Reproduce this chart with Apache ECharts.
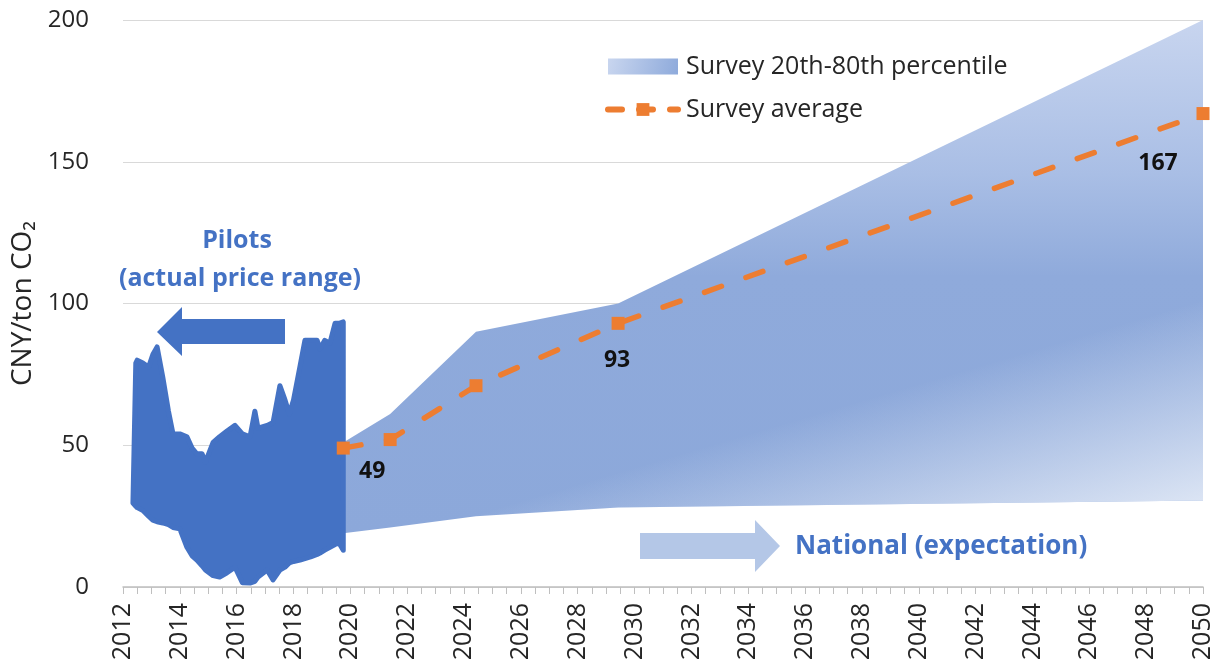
<!DOCTYPE html>
<html>
<head>
<meta charset="utf-8">
<script src="https://cdn.jsdelivr.net/npm/echarts@6/dist/echarts.min.js"></script>
<style>
html,body{margin:0;padding:0;background:#fff;}
#chart{width:1227px;height:664px;}
</style>
</head>
<body>
<div id="chart"></div>
<script>
// ---- data ----
const pilotYears = [2012.35, 2012.45, 2012.5, 2012.7, 2012.9, 2013.05, 2013.2, 2013.4, 2013.6, 2013.76, 2014.0, 2014.25, 2014.43, 2014.6, 2014.78, 2014.9, 2015.17, 2015.4, 2015.66, 2015.94, 2016.2, 2016.47, 2016.64, 2016.75, 2017.07, 2017.28, 2017.52, 2017.7, 2017.85, 2018.0, 2018.23, 2018.4, 2018.6, 2018.83, 2018.93, 2019.1, 2019.28, 2019.46, 2019.6, 2019.75];
const pilotHigh  = [29.6, 79, 80, 79, 77.6, 82, 84.7, 74, 62, 54, 54, 53, 49, 47, 47, 44, 51, 53, 55, 57, 54, 53, 62, 56, 57, 58, 71, 66, 61, 66, 78, 87, 87, 87, 84, 87, 86, 93, 93, 93.5];
const pilotLow   = [29.6, 28.5, 28, 27, 25, 23.6, 23, 22.6, 22, 21, 20.5, 14, 11, 9.5, 7.5, 6, 4, 3.5, 5, 7, 1.5, 1.4, 2, 3.5, 6, 2.5, 6, 7, 8.5, 9, 9.5, 10, 10.6, 11.5, 12, 13, 14, 15, 15.5, 13];

const surveyYears = [2019.75, 2021.4, 2024.42, 2029.42, 2050];
const surveyHigh  = [51, 61, 90, 100, 200];
const surveyLow   = [19, 21, 25, 28, 30.5];
const surveyAvg   = [49, 52, 71, 93, 167];
const avgLabelShown = [true, false, false, true, true];

const yMin = 0, yMax = 200, yInterval = 50;
const xMin = 2012, xMax = 2050, xInterval = 2;

const bandName = 'Survey 20th-80th percentile';
const avgName = 'Survey average';
const yAxisName = 'CNY/ton CO\u2082';
const pilotText = ['Pilots', '(actual price range)'];
const nationalText = 'National (expectation)';

// ---- build ----
const FONT = '"Open Sans", Lato, sans-serif';
const BLUE = '#4472C4';
const ORANGE = '#ED7D31';

const rows = (xs, lo, hi) => xs.map((x, i) => [x, lo[i], hi[i]]);

const bandBase = new echarts.graphic.LinearGradient(0, 0, 0, 1, [
  {offset: 0, color: '#c8d5ef'},
  {offset: 0.3, color: '#a9bee5'},
  {offset: 0.5, color: '#8faadb'},
  {offset: 1, color: '#8ca8da'}
]);
const bandFade = new echarts.graphic.LinearGradient(0.93, 0.58, 1.0, 0.978, [
  {offset: 0, color: 'rgba(232,238,248,0)'},
  {offset: 1, color: 'rgba(232,238,248,0.95)'}
]);
const legendGradient = new echarts.graphic.LinearGradient(0, 0, 1, 1, [
  {offset: 0, color: '#c9d6ef'},
  {offset: 1, color: '#8eaadb'}
]);

function bandPoints(xs, lo, hi, api) {
  const pts = [];
  for (let i = 0; i < xs.length; i++) pts.push(api.coord([xs[i], hi[i]]));
  for (let i = xs.length - 1; i >= 0; i--) pts.push(api.coord([xs[i], lo[i]]));
  return pts;
}
function bandRenderer(xs, lo, hi, styles) {
  return function (params, api) {
    if (params.dataIndex !== 0) return null;
    const pts = bandPoints(xs, lo, hi, api);
    return {type: 'group', children: styles.map(s => ({type: 'polygon', shape: {points: pts}, style: s}))};
  };
}

const labelOffsets = [[29, 23], null, null, [-1, 37], [-45, 50]];
const avgData = surveyYears.map((x, i) => {
  const item = {value: [x, surveyAvg[i]]};
  if (avgLabelShown[i]) {
    item.label = {show: true, position: 'inside', offset: labelOffsets[i],
      formatter: String(surveyAvg[i]), color: '#111', fontWeight: 'bold', fontSize: 23, fontFamily: FONT};
  }
  return item;
});

const chart = echarts.init(document.getElementById('chart'), null, {renderer: 'canvas'});
chart.setOption({
  animation: false,
  backgroundColor: '#fff',
  grid: {left: 123, right: 24, top: 20, bottom: 77, containLabel: false},
  legend: {
    orient: 'vertical', left: 600, top: 49, itemGap: 18,
    itemWidth: 70, itemHeight: 16,
    textStyle: {fontSize: 25, color: '#262626', fontFamily: FONT, padding: [0, 0, 0, 3]},
    data: [
      {name: bandName, icon: 'rect', itemStyle: {color: legendGradient}},
      {name: avgName, lineStyle: {width: 6, color: ORANGE, type: [14, 17]}}
    ]
  },
  xAxis: {
    type: 'value', min: xMin, max: xMax, interval: xInterval,
    axisLine: {show: true, lineStyle: {color: '#bfbfbf', width: 1.5}},
    axisTick: {show: true, inside: false, length: 7, lineStyle: {color: '#bfbfbf'}},
    minorTick: {show: true, splitNumber: 4, length: 7, lineStyle: {color: '#bfbfbf'}},
    splitLine: {show: false},
    axisLabel: {rotate: 90, margin: 16, fontSize: 25, color: '#262626', fontFamily: FONT,
      formatter: v => String(v)}
  },
  yAxis: {
    type: 'value', min: yMin, max: yMax, interval: yInterval,
    axisLine: {show: false}, axisTick: {show: false},
    splitLine: {show: true, lineStyle: {color: '#d9d9d9', width: 1}},
    axisLabel: {margin: 34, fontSize: 24, color: '#262626', fontFamily: FONT},
    name: yAxisName, nameLocation: 'middle', nameGap: 84, nameRotate: 90,
    nameTextStyle: {fontSize: 28, color: '#262626', fontFamily: FONT}
  },
  series: [
    {
      name: bandName, type: 'custom', silent: true, z: 1,
      data: rows(surveyYears, surveyLow, surveyHigh),
      encode: {x: 0, y: [1, 2]},
      itemStyle: {color: '#8eaadb'},
      renderItem: bandRenderer(surveyYears, surveyLow, surveyHigh, [{fill: bandBase}, {fill: bandFade}])
    },
    {
      name: 'Pilots', type: 'custom', silent: true, z: 2,
      data: rows(pilotYears, pilotLow, pilotHigh),
      encode: {x: 0, y: [1, 2]},
      renderItem: bandRenderer(pilotYears, pilotLow, pilotHigh,
        [{fill: BLUE, stroke: BLUE, lineWidth: 5, lineJoin: 'round', lineCap: 'round'}])
    },
    {
      name: avgName, type: 'line', symbol: 'rect', symbolSize: 13,
      data: avgData,
      itemStyle: {color: ORANGE},
      lineStyle: {width: 5.5, color: ORANGE, type: [18, 26], cap: 'round'},
      z: 3
    }
  ],
  graphic: [
    {type: 'polygon', z: 10, shape: {points: [[157, 332], [182, 307], [182, 319], [285, 319], [285, 344], [182, 344], [182, 356]]}, style: {fill: BLUE}},
    {type: 'polygon', z: 10, shape: {points: [[640, 533], [755, 533], [755, 520], [780, 546], [755, 572], [755, 559], [640, 559]]}, style: {fill: '#b4c7e7'}},
    {type: 'text', z: 10, x: 237, y: 241, style: {text: pilotText[0], fill: BLUE, font: 'bold 25px ' + FONT, align: 'center', verticalAlign: 'middle'}},
    {type: 'text', z: 10, x: 240, y: 279, style: {text: pilotText[1], fill: BLUE, font: 'bold 25px ' + FONT, align: 'center', verticalAlign: 'middle'}},
    {type: 'text', z: 10, x: 795, y: 547, style: {text: nationalText, fill: BLUE, font: 'bold 26px ' + FONT, align: 'left', verticalAlign: 'middle'}}
  ]
});
</script>
</body>
</html>
